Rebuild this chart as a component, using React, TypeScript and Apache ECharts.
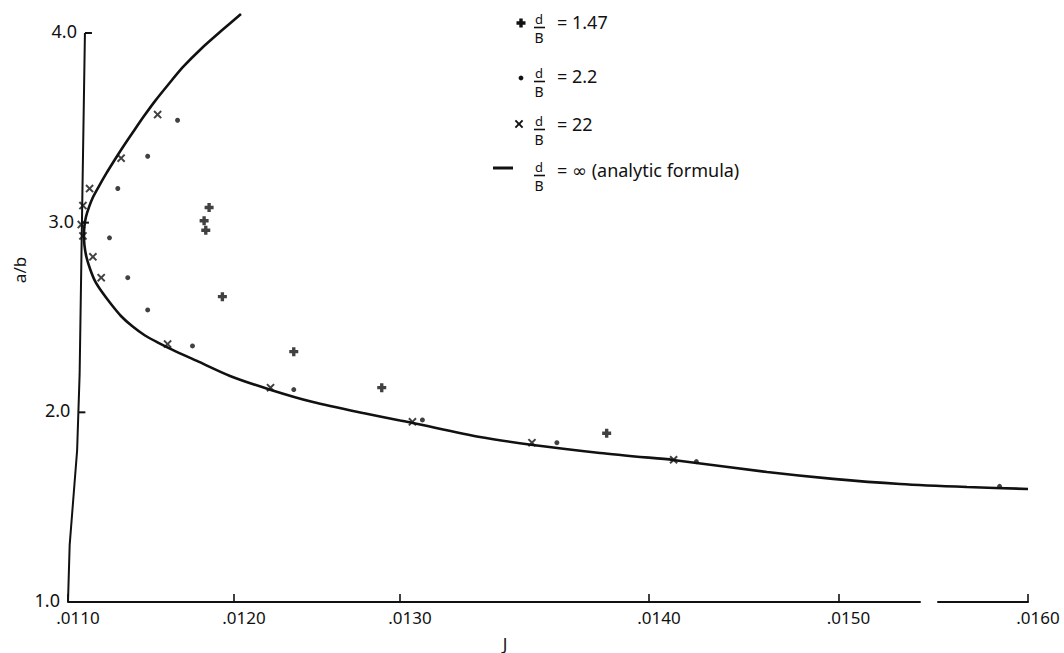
import React, { useEffect, useRef } from "react";
import * as echarts from "echarts";

// ---- data -------------------------------------------------------------
const J_TICKS = [0.011, 0.012, 0.013, 0.014, 0.015, 0.016];
const Y_TICKS = [1.0, 2.0, 3.0, 4.0];

// d/B = 1.47
const PLUS_J = [0.01185, 0.01182, 0.01183, 0.01193, 0.01236, 0.01289, 0.01383];
const PLUS_V = [3.08, 3.01, 2.96, 2.61, 2.32, 2.13, 1.89];

// d/B = 2.2
const DOT_J = [0.01166, 0.01148, 0.0113, 0.01125, 0.01136, 0.01148, 0.01175, 0.01236, 0.01309, 0.01363, 0.01425, 0.01585];
const DOT_V = [3.54, 3.35, 3.18, 2.92, 2.71, 2.54, 2.35, 2.12, 1.96, 1.84, 1.74, 1.61];

// d/B = 22
const CROSS_J = [0.01154, 0.01132, 0.01113, 0.01109, 0.01108, 0.01109, 0.01115, 0.0112, 0.0116, 0.01222, 0.01305, 0.01353, 0.01413];
const CROSS_V = [3.57, 3.34, 3.18, 3.09, 2.99, 2.93, 2.82, 2.71, 2.36, 2.13, 1.95, 1.84, 1.75];

// d/B = infinity (analytic formula): upper branch -> nose -> lower branch
const CURVE_J = [
  0.012042, 0.011922, 0.011801, 0.011693, 0.011602, 0.011524, 0.011458, 0.011392, 0.011331,
  0.011277, 0.011229, 0.011187, 0.011151, 0.011127, 0.011108, 0.011099, 0.011096,
  0.011099, 0.011111, 0.011133, 0.011163, 0.011205, 0.011259, 0.011319, 0.011386, 0.011464,
  0.011542, 0.011627, 0.011777, 0.011976, 0.012223, 0.012476, 0.012777, 0.013, 0.013052,
  0.013321, 0.013534, 0.013803, 0.014, 0.014127, 0.014623, 0.014971, 0.015325, 0.015678, 0.016,
];
const CURVE_V = [
  4.1, 4.01, 3.916, 3.821, 3.726, 3.641, 3.562, 3.478, 3.399,
  3.325, 3.257, 3.193, 3.135, 3.083, 3.03, 2.982, 2.935,
  2.882, 2.819, 2.756, 2.692, 2.634, 2.571, 2.508, 2.455, 2.405,
  2.368, 2.331, 2.271, 2.192, 2.118, 2.054, 1.996, 1.957, 1.944,
  1.87, 1.828, 1.786, 1.761, 1.749, 1.685, 1.649, 1.622, 1.606, 1.596,
];

// hand-drawn ordinate line (it leans slightly), as [J, a/b]
const Y_AXIS_J = [0.011, 0.01101, 0.011055, 0.01107, 0.011084, 0.011102];
const Y_AXIS_V = [1.0, 1.3, 1.8, 2.2, 3.0, 4.0];

const LEGEND_LABELS = ["= 1.47", "= 2.2", "= 22", "= \u221e (analytic formula)"];

// ---- layout / style ---------------------------------------------------
const INK = "#111";
const FONT = '"Noto Sans", "DejaVu Sans", sans-serif';
const PLOT_TOP = 33;
const PLOT_HEIGHT = 569;

// the abscissa is drawn piecewise: each piece has its own linear scale
const PIECES = [
  { left: 68, width: 332, min: J_TICKS[0], max: J_TICKS[2], labels: true, line: true },
  { left: 400, width: 249, min: J_TICKS[2], max: J_TICKS[3], labels: false, line: true },
  { left: 649, width: 379, min: J_TICKS[3], max: J_TICKS[5], labels: true, line: false },
];
// bottom rule of the last piece, broken before the final tick
const RULE_PIECES = [
  { left: 649, width: 271 },
  { left: 938, width: 90 },
];

const PLUS_PATH =
  "path://M2.5,0 L5.5,0 L5.5,2.5 L8,2.5 L8,5.5 L5.5,5.5 L5.5,8 L2.5,8 L2.5,5.5 L0,5.5 L0,2.5 L2.5,2.5 Z";
const CROSS_PATH =
  "path://M0,1.3 L1.3,0 L4,2.7 L6.7,0 L8,1.3 L5.3,4 L8,6.7 L6.7,8 L4,5.3 L1.3,8 L0,6.7 L2.7,4 Z";

const pieceOf = (j: number) => (j < PIECES[1].min ? 0 : j < PIECES[2].min ? 1 : 2);
const fmtJ = (v: number) => "." + String(Math.round(v * 10000)).padStart(4, "0");

function zip(a: number[], b: number[]) {
  return a.map((x, i) => [x, b[i]]);
}

function axisJAt(v: number) {
  for (let i = 0; i < Y_AXIS_V.length - 1; i++) {
    const v0 = Y_AXIS_V[i];
    const v1 = Y_AXIS_V[i + 1];
    if (v >= v0 && v <= v1) {
      const t = (v - v0) / (v1 - v0);
      return Y_AXIS_J[i] + t * (Y_AXIS_J[i + 1] - Y_AXIS_J[i]);
    }
  }
  return Y_AXIS_J[Y_AXIS_J.length - 1];
}

function blankGrid(left: number, width: number, top: number, height: number) {
  return { left, width, top, height, containLabel: false, outerBoundsMode: "none" };
}

function buildOption() {
  const grids: any[] = [];
  const xAxes: any[] = [];
  const yAxes: any[] = [];
  const series: any[] = [];

  PIECES.forEach((p, g) => {
    grids.push(blankGrid(p.left, p.width, PLOT_TOP, PLOT_HEIGHT));
    xAxes.push({
      gridIndex: g,
      type: "value",
      min: p.min,
      max: p.max,
      interval: 0.001,
      axisLine: { show: p.line, onZero: false, lineStyle: { color: INK, width: 2 } },
      axisTick: { show: p.labels, inside: true, length: 8, lineStyle: { color: INK, width: 1.6 } },
      axisLabel: {
        show: p.labels,
        formatter: fmtJ,
        color: INK,
        fontFamily: FONT,
        fontSize: 17,
        margin: 7,
        padding: [0, 0, 0, 20],
      },
      splitLine: { show: false },
    });
    yAxes.push({
      gridIndex: g,
      type: "value",
      min: Y_TICKS[0],
      max: Y_TICKS[Y_TICKS.length - 1],
      show: false,
      splitLine: { show: false },
    });
  });

  RULE_PIECES.forEach((r) => {
    const g = grids.length;
    grids.push(blankGrid(r.left, r.width, PLOT_TOP, PLOT_HEIGHT));
    xAxes.push({
      gridIndex: g,
      type: "value",
      min: 0,
      max: 1,
      axisLine: { show: true, onZero: false, lineStyle: { color: INK, width: 2 } },
      axisTick: { show: false },
      axisLabel: { show: false },
      splitLine: { show: false },
    });
    yAxes.push({ gridIndex: g, type: "value", min: 0, max: 1, show: false, splitLine: { show: false } });
  });

  // carrier for the ordinate title, centred a little above mid-height
  {
    const g = grids.length;
    grids.push(blankGrid(68, 10, PLOT_TOP, 474));
    xAxes.push({ gridIndex: g, type: "value", min: 0, max: 1, show: false });
    yAxes.push({
      gridIndex: g,
      type: "value",
      min: 0,
      max: 1,
      show: true,
      name: "a/b",
      nameLocation: "middle",
      nameRotate: 90,
      nameGap: 40,
      nameTextStyle: { color: INK, fontFamily: FONT, fontSize: 17 },
      axisLine: { show: false },
      axisTick: { show: false },
      axisLabel: { show: false },
      splitLine: { show: false },
    });
  }

  // ordinate line
  series.push({
    type: "line",
    xAxisIndex: 0,
    yAxisIndex: 0,
    data: zip(Y_AXIS_J, Y_AXIS_V),
    symbol: "none",
    clip: false,
    silent: true,
    lineStyle: { color: INK, width: 2 },
  });

  // analytic curve, one piece per abscissa segment
  const curve = zip(CURVE_J, CURVE_V);
  PIECES.forEach((p, g) => {
    const pts = curve.filter((c) => c[0] >= p.min - 1e-12 && c[0] <= p.max + 1e-12);
    series.push({
      type: "line",
      name: "d/B = \u221e",
      xAxisIndex: g,
      yAxisIndex: g,
      data: pts,
      symbol: "none",
      smooth: 0.25,
      clip: false,
      silent: true,
      lineStyle: { color: INK, width: 2.6 },
    });
  });

  const groups = [
    { name: "d/B = 1.47", j: PLUS_J, v: PLUS_V, symbol: PLUS_PATH, size: 9 },
    { name: "d/B = 2.2", j: DOT_J, v: DOT_V, symbol: "circle", size: 5 },
    { name: "d/B = 22", j: CROSS_J, v: CROSS_V, symbol: CROSS_PATH, size: 8.5 },
  ];
  groups.forEach((grp) => {
    const pts = zip(grp.j, grp.v);
    PIECES.forEach((_, g) => {
      const data = pts.filter((p) => pieceOf(p[0]) === g);
      if (!data.length) return;
      series.push({
        type: "scatter",
        name: grp.name,
        xAxisIndex: g,
        yAxisIndex: g,
        data,
        symbol: grp.symbol,
        symbolSize: grp.size,
        clip: false,
        silent: true,
        itemStyle: { color: INK },
        z: 5,
      });
    });
  });

  return {
    animation: false,
    backgroundColor: "#fff",
    grid: grids,
    xAxis: xAxes,
    yAxis: yAxes,
    series,
  };
}

function textEl(text: string, x: number, y: number, size: number, align: string) {
  return {
    type: "text",
    x,
    y,
    silent: true,
    style: {
      text,
      fill: INK,
      font: `${size}px ${FONT}`,
      fontSize: size,
      fontFamily: FONT,
      align,
      textAlign: align,
      verticalAlign: "middle",
      textVerticalAlign: "middle",
    },
  };
}

function plusPoints(cx: number, cy: number, s: number) {
  const a = s * 0.19;
  const h = s / 2;
  return [
    [cx - a, cy - h], [cx + a, cy - h], [cx + a, cy - a], [cx + h, cy - a], [cx + h, cy + a], [cx + a, cy + a],
    [cx + a, cy + h], [cx - a, cy + h], [cx - a, cy + a], [cx - h, cy + a], [cx - h, cy - a], [cx - a, cy - a],
  ];
}

function crossPoints(cx: number, cy: number, s: number) {
  const h = s / 2;
  const w = s * 0.16;
  return [
    [cx - h, cy - h + w], [cx - h + w, cy - h], [cx, cy - w], [cx + h - w, cy - h], [cx + h, cy - h + w], [cx + w, cy],
    [cx + h, cy + h - w], [cx + h - w, cy + h], [cx, cy + w], [cx - h + w, cy + h], [cx - h, cy + h - w], [cx - w, cy],
  ];
}

function buildGraphics(chart: echarts.ECharts) {
  const els: any[] = [];

  // ordinate tick marks and labels, following the leaning line
  Y_TICKS.forEach((v) => {
    const [px, py] = chart.convertToPixel({ gridIndex: 0 }, [axisJAt(v), v]) as number[];
    els.push(textEl(v.toFixed(1), px - 8, py - 2, 18, "right"));
    if (v > Y_TICKS[0]) {
      els.push({
        type: "line",
        silent: true,
        shape: { x1: px, y1: py, x2: px + 7, y2: py },
        style: { stroke: INK, lineWidth: 2 },
      });
    }
  });

  // abscissa title
  els.push(textEl("J", 505, 643, 17, "center"));

  // legend: marker, d over B, value
  const rowY = [22, 76, 124, 170];
  rowY.forEach((c, i) => {
    if (i === 0) {
      els.push({ type: "polygon", silent: true, shape: { points: plusPoints(521, c + 1, 9) }, style: { fill: INK } });
    } else if (i === 1) {
      els.push({ type: "circle", silent: true, shape: { cx: 521, cy: c + 2, r: 2.4 }, style: { fill: INK } });
    } else if (i === 2) {
      els.push({ type: "polygon", silent: true, shape: { points: crossPoints(519, c, 8.5) }, style: { fill: INK } });
    } else {
      els.push({
        type: "line",
        silent: true,
        shape: { x1: 493, y1: c - 2, x2: 513, y2: c - 2 },
        style: { stroke: INK, lineWidth: 3 },
      });
    }
    els.push(textEl("d", 539, c - 3, 13, "center"));
    els.push({
      type: "line",
      silent: true,
      shape: { x1: 534, y1: c + 5.5, x2: 545, y2: c + 5.5 },
      style: { stroke: INK, lineWidth: 1.6 },
    });
    els.push(textEl("B", 539, c + 15.5, 14, "center"));
    els.push(textEl(LEGEND_LABELS[i], 557, c, 18, "left"));
  });

  return els;
}

export default function App() {
  const ref = useRef<HTMLDivElement>(null);

  useEffect(() => {
    if (!ref.current) return;
    const chart = echarts.init(ref.current, null, { renderer: "svg" });
    chart.setOption(buildOption());
    chart.setOption({ graphic: buildGraphics(chart) });
    return () => chart.dispose();
  }, []);

  return (
    <div
      ref={ref}
      style={{ position: "absolute", left: 0, top: 0, width: 1064, height: 653, background: "#fff" }}
    />
  );
}
